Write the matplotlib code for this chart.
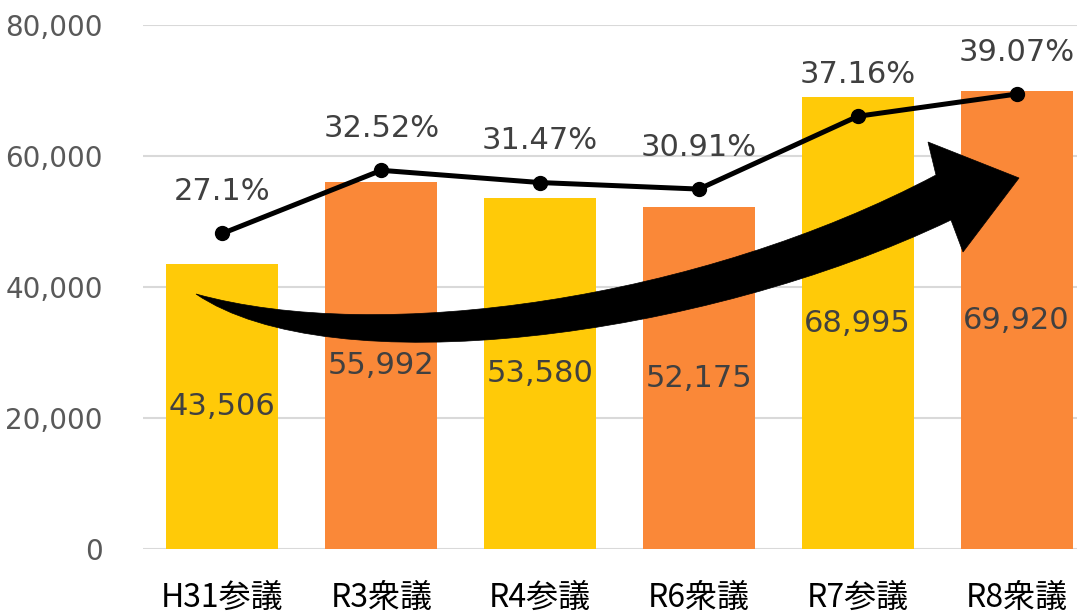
#!/usr/bin/env python3
"""Turnout bar chart with percentage line and a decorative rising arrow."""
import matplotlib
matplotlib.use("Agg")
import matplotlib.pyplot as plt
from matplotlib.path import Path
from matplotlib.patches import PathPatch

categories = ["H31参議", "R3衆議", "R4参議", "R6衆議", "R7参議", "R8衆議"]
votes = [43506, 55992, 53580, 52175, 68995, 69920]
rates = [27.1, 32.52, 31.47, 30.91, 37.16, 39.07]
bar_colors = ["#FFCA08", "#FA8838", "#FFCA08", "#FA8838", "#FFCA08", "#FA8838"]
yticks = [0, 20000, 40000, 60000, 80000]

W, H = 1077, 615
fig = plt.figure(figsize=(W / 100, H / 100), dpi=100)
ax = fig.add_axes([143 / W, 66 / H, 953 / W, 524 / H])

x = list(range(len(categories)))
ax.bar(x, votes, width=0.705, color=bar_colors, zorder=2)
ax.set_xlim(-0.5, 5.5)
ax.set_ylim(0, 80000)
ax.set_yticks(yticks)
ax.set_yticklabels([f"{v:,}" for v in yticks])
ax.grid(axis="y", color="#D9D9D9", linewidth=1.5, zorder=0)
for s in ax.spines.values():
    s.set_visible(False)
ax.tick_params(axis="y", length=0, pad=29, labelsize=20, labelcolor="#595959")
ax.tick_params(axis="x", length=0, pad=24, labelcolor="#000000")
ax.set_xticks(x)
ax.set_xticklabels(categories, family=["Noto Sans CJK JP", "DejaVu Sans"], fontsize=23)

for xi, v in zip(x, votes):
    ax.text(xi, v / 2, f"{v:,}", ha="center", va="center", fontsize=22,
            color="#404040", zorder=3)

ax2 = ax.twinx()
ax2.set_ylim(0, 45)
ax2.axis("off")
ax2.plot(x, rates, color="black", linewidth=3.6, marker="o", markersize=10, zorder=4)
for xi, r in zip(x, rates):
    ax2.annotate(f"{r:g}%", (xi, r), xytext=(0, 30), textcoords="offset points",
                 ha="center", va="center", fontsize=22, color="#404040")

# decorative curved arrow (figure pixel coords, y downward)
pts = [
    ((196, 294), Path.MOVETO),
    ((380, 345), Path.CURVE4), ((700, 300), Path.CURVE4), ((936, 175), Path.CURVE4),
    ((928, 142), Path.LINETO),
    ((1019, 178), Path.LINETO),
    ((963, 252), Path.LINETO),
    ((951, 220), Path.LINETO),
    ((700, 340), Path.CURVE4), ((330, 385), Path.CURVE4), ((196, 294), Path.CURVE4),
    ((196, 294), Path.CLOSEPOLY),
]
verts = [(px / W, 1 - py / H) for (px, py), _ in pts]
codes = [c for _, c in pts]
arrow = PathPatch(Path(verts, codes), transform=fig.transFigure,
                  facecolor="black", edgecolor="black", linewidth=0.5, zorder=5)
fig.patches.append(arrow)

fig.savefig("out.png", dpi=100)
